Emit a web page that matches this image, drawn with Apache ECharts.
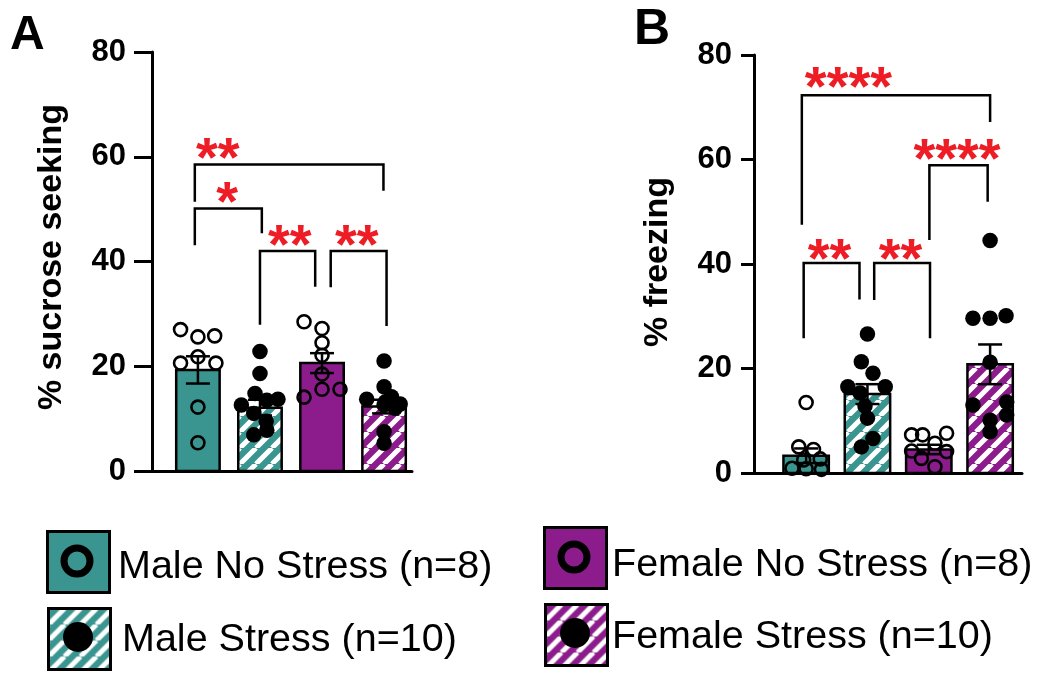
<!DOCTYPE html>
<html>
<head>
<meta charset="utf-8">
<script src="https://cdn.jsdelivr.net/npm/echarts@6/dist/echarts.min.js"></script>
<style>
html,body{margin:0;padding:0;background:#fff;}
#main{width:1050px;height:684px;}
</style>
</head>
<body>
<div id="main"></div>
<script>
// ---------- DATA ----------
const categories = ['Male No Stress', 'Male Stress', 'Female No Stress', 'Female Stress'];
const legendLabels = ['Male No Stress (n=8)', 'Male Stress (n=10)', 'Female No Stress (n=8)', 'Female Stress (n=10)'];
const yTicks = [0, 20, 40, 60, 80];
const titleA = '% sucrose seeking';
const titleB = '% freezing';

// Panel A: % sucrose seeking
const sucroseMean = [19.3, 12.1, 20.6, 12.3];
const sucroseSem = [2.6, 1.5, 1.9, 1.3];
const sucroseMNS = [27.0, 25.6, 25.8, 21.8, 20.6, 20.6, 12.2, 5.4];
const sucroseMNSJit = [-0.28, 0, 0.27, 0, -0.28, 0.29, 0, 0];
const sucroseMS = [22.8, 18.6, 14.8, 13.7, 13.5, 12.6, 11.0, 9.5, 7.8, 6.9];
const sucroseMSJit = [0, 0, -0.08, 0.29, 0.11, -0.3, -0.1, 0.1, 0.11, -0.1];
const sucroseFNS = [28.5, 27.2, 24.5, 22.1, 18.5, 15.6, 15.6, 14.1];
const sucroseFNSJit = [-0.29, 0, 0, 0, 0, 0, 0.29, -0.29];
const sucroseFS = [21.0, 16.1, 14.2, 13.7, 13.2, 12.8, 12.6, 12.0, 7.5, 5.3];
const sucroseFSJit = [0, 0, 0.12, -0.28, 0.02, 0.26, 0, 0.18, 0, 0];

// Panel B: % freezing
const freezeMean = [3.3, 15.1, 4.5, 20.8];
const freezeSem = [1.4, 1.9, 0.9, 3.8];
const freezeMNS = [13.5, 5.0, 4.5, 2.7, 2.5, 0.9, 0.8, 0.7];
const freezeMNSJit = [0, -0.12, 0.12, 0.23, -0.04, -0.23, 0, 0.25];
const freezeMS = [26.6, 21.3, 19.1, 16.5, 16.5, 15.3, 12.8, 10.5, 6.6, 5.0];
const freezeMSJit = [0, -0.1, 0.09, -0.32, 0.29, -0.12, -0.04, 0, 0.09, -0.1];
const freezeFNS = [7.3, 7.3, 7.6, 5.7, 4.2, 4.1, 2.8, 1.2];
const freezeFNSJit = [-0.28, -0.1, 0.29, 0.1, -0.28, 0.29, -0.12, 0.1];
const freezeFS = [44.5, 29.6, 29.6, 30.1, 21.2, 13.0, 13.6, 11.1, 10.1, 7.9];
const freezeFSJit = [0, -0.28, 0, 0.26, 0, -0.28, 0.27, 0.27, 0, 0];

// Significance brackets: [xLeft, xRight, yLeftEnd, yTop, yRightEnd]
const bracketsA = [[-0.05, 2.99, 51.4, 58.5, 53.5], [-0.05, 1.03, 43.1, 50.1, 45.4], [1.0, 1.89, 27.9, 42.0, 35.2], [2.14, 3.04, 35.1, 42.0, 27.7]];
const starTextA = ['**', '*', '**', '**'];
const starPosA = [[0.32, 61.3], [0.47, 52.9], [1.48, 44.8], [2.56, 44.8]];
const bracketsB = [[-0.07, 3.0, 47.5, 72.3, 67.2], [2.01, 2.96, 44.6, 58.9, 51.9], [-0.04, 0.87, 25.8, 40.2, 33.2], [1.11, 2.02, 33.1, 40.2, 25.8]];
const starTextB = ['****', '****', '**', '**'];
const starPosB = [[0.69, 75.4], [2.46, 61.8], [0.38, 42.6], [1.54, 42.6]];

// ---------- STYLE ----------
const TEAL = '#3a9590';
const PURPLE = '#8c1c8c';
const RED = '#ee1c25';
const FONT = '"Liberation Sans", Arial, sans-serif';

function stripes(bg) {
  const s = 16;
  const c = document.createElement('canvas');
  c.width = s; c.height = s;
  const g = c.getContext('2d');
  g.fillStyle = bg; g.fillRect(0, 0, s, s);
  g.strokeStyle = '#ffffff'; g.lineWidth = 5;
  g.beginPath();
  for (let k = -1; k <= 1; k++) { g.moveTo(k * s, s); g.lineTo(k * s + s, 0); }
  g.stroke();
  return { image: c, repeat: 'repeat' };
}
const fills = [TEAL, stripes(TEAL), PURPLE, stripes(PURPLE)];
const filledPts = [false, true, false, true];

const chart = echarts.init(document.getElementById('main'), null, { renderer: 'canvas' });

function yAxisCfg(gi, tickLen, margin) {
  return {
    gridIndex: gi, type: 'value', min: yTicks[0], max: yTicks[yTicks.length - 1], interval: 20,
    axisLine: { show: true, onZero: false, lineStyle: { color: '#000', width: 3 } },
    axisTick: { show: true, length: tickLen, lineStyle: { color: '#000', width: 3 } },
    axisLabel: { margin: margin, color: '#000', fontSize: 31, fontWeight: 'bold', fontFamily: FONT },
    splitLine: { show: false }
  };
}
function xAxisCfg(gi, mn, mx) {
  return {
    gridIndex: gi, type: 'value', min: mn, max: mx,
    axisLine: { show: true, onZero: false, lineStyle: { color: '#000', width: 3 } },
    axisTick: { show: false }, axisLabel: { show: false }, splitLine: { show: false }
  };
}

function barSeries(ai, means, halfW) {
  return {
    type: 'custom', xAxisIndex: ai, yAxisIndex: ai, z: 1,
    data: means.map((m, i) => [i, m]),
    renderItem: function (params, api) {
      const i = params.dataIndex;
      const p0 = api.coord([api.value(0) - halfW, 0]);
      const p1 = api.coord([api.value(0) + halfW, api.value(1)]);
      return { type: 'rect', shape: { x: p0[0], y: p1[1], width: p1[0] - p0[0], height: p0[1] - p1[1] },
        style: { fill: fills[i], stroke: '#000', lineWidth: 2.5 } };
    }
  };
}
function errSeries(ai, means, sems) {
  return {
    type: 'custom', xAxisIndex: ai, yAxisIndex: ai, z: 2,
    data: means.map((m, i) => [i, m - sems[i], m + sems[i]]),
    renderItem: function (params, api) {
      const lo = api.coord([api.value(0), api.value(1)]);
      const hi = api.coord([api.value(0), api.value(2)]);
      const cw = 12;
      const st = { stroke: '#000', lineWidth: 2.5 };
      return { type: 'group', children: [
        { type: 'line', shape: { x1: lo[0], y1: lo[1], x2: hi[0], y2: hi[1] }, style: st },
        { type: 'line', shape: { x1: hi[0] - cw, y1: hi[1], x2: hi[0] + cw, y2: hi[1] }, style: st },
        { type: 'line', shape: { x1: lo[0] - cw, y1: lo[1], x2: lo[0] + cw, y2: lo[1] }, style: st }
      ] };
    }
  };
}
function ptSeries(ai, gi, vals, jit) {
  const filled = filledPts[gi];
  return {
    type: 'scatter', xAxisIndex: ai, yAxisIndex: ai, z: 3,
    symbol: 'circle', symbolSize: filled ? 15.5 : 13,
    itemStyle: filled ? { color: '#000', opacity: 1 } : { color: 'rgba(0,0,0,0)', borderColor: '#000', borderWidth: 2.6, opacity: 1 },
    data: vals.map((v, k) => [gi + jit[k], v]),
    silent: true
  };
}
function bracketSeries(ai, brs) {
  return {
    type: 'custom', xAxisIndex: ai, yAxisIndex: ai, z: 4,
    data: brs,
    renderItem: function (params, api) {
      const a = api.coord([api.value(0), api.value(2)]);
      const b = api.coord([api.value(0), api.value(3)]);
      const c = api.coord([api.value(1), api.value(3)]);
      const d = api.coord([api.value(1), api.value(4)]);
      return { type: 'polyline', shape: { points: [a, b, c, d] }, style: { stroke: '#000', lineWidth: 2.5, fill: null } };
    }
  };
}
function starSeries(ai, pos, texts) {
  return {
    type: 'custom', xAxisIndex: ai, yAxisIndex: ai, z: 5,
    data: pos,
    renderItem: function (params, api) {
      const p = api.coord([api.value(0), api.value(1)]);
      return { type: 'text', x: p[0], y: p[1] + 11,
        style: { text: texts[params.dataIndex], fill: RED, font: 'bold 56px ' + FONT,
          align: 'center', verticalAlign: 'middle', textAlign: 'center', textVerticalAlign: 'middle' } };
    }
  };
}

// Legend graphics
const legendPos = [[46, 530, 118, 567], [47, 607, 122, 640], [543, 526, 612, 565], [544, 603, 612, 637]];
const legendEls = [];
legendPos.forEach((p, i) => {
  legendEls.push({ type: 'rect', left: p[0], top: p[1], shape: { width: 62, height: 61 },
    style: { fill: fills[i], stroke: '#000', lineWidth: 3 } });
  if (filledPts[i]) {
    legendEls.push({ type: 'circle', shape: { cx: p[0] + 31, cy: p[1] + 30, r: 15 }, style: { fill: '#000' } });
  } else {
    legendEls.push({ type: 'circle', shape: { cx: p[0] + 31, cy: p[1] + 31, r: 13 }, style: { fill: null, stroke: '#000', lineWidth: 7 } });
  }
  legendEls.push({ type: 'text', x: p[2], y: p[3],
    style: { text: legendLabels[i], fill: '#000', font: '39.5px ' + FONT, align: 'left', verticalAlign: 'middle', textAlign: 'left', textVerticalAlign: 'middle' } });
});

const option = {
  animation: false,
  backgroundColor: '#fff',
  grid: [
    { left: 152, top: 52, width: 260, height: 419 },
    { left: 754, top: 55, width: 268, height: 418 }
  ],
  xAxis: [xAxisCfg(0, -0.74, 3.45), xAxisCfg(1, -0.85, 3.52)],
  yAxis: [yAxisCfg(0, 18, 26), yAxisCfg(1, 13, 22)],
  graphic: [
    { type: 'text', x: 10, y: 36, style: { text: 'A', fill: '#000', font: 'bold 48px ' + FONT, align: 'left', verticalAlign: 'middle', textAlign: 'left', textVerticalAlign: 'middle' } },
    { type: 'text', x: 634, y: 30, style: { text: 'B', fill: '#000', font: 'bold 50px ' + FONT, align: 'left', verticalAlign: 'middle', textAlign: 'left', textVerticalAlign: 'middle' } },
    { type: 'text', x: 52, y: 257, rotation: Math.PI / 2, style: { text: titleA, fill: '#000', font: 'bold 34px ' + FONT, align: 'center', verticalAlign: 'middle', textAlign: 'center', textVerticalAlign: 'middle' } },
    { type: 'text', x: 658, y: 262, rotation: Math.PI / 2, style: { text: titleB, fill: '#000', font: 'bold 34px ' + FONT, align: 'center', verticalAlign: 'middle', textAlign: 'center', textVerticalAlign: 'middle' } }
  ].concat(legendEls),
  series: [
    barSeries(0, sucroseMean, 0.35),
    errSeries(0, sucroseMean, sucroseSem),
    ptSeries(0, 0, sucroseMNS, sucroseMNSJit),
    ptSeries(0, 1, sucroseMS, sucroseMSJit),
    ptSeries(0, 2, sucroseFNS, sucroseFNSJit),
    ptSeries(0, 3, sucroseFS, sucroseFSJit),
    bracketSeries(0, bracketsA),
    starSeries(0, starPosA, starTextA),
    barSeries(1, freezeMean, 0.37),
    errSeries(1, freezeMean, freezeSem),
    ptSeries(1, 0, freezeMNS, freezeMNSJit),
    ptSeries(1, 1, freezeMS, freezeMSJit),
    ptSeries(1, 2, freezeFNS, freezeFNSJit),
    ptSeries(1, 3, freezeFS, freezeFSJit),
    bracketSeries(1, bracketsB),
    starSeries(1, starPosB, starTextB)
  ]
};
chart.setOption(option);
</script>
</body>
</html>
